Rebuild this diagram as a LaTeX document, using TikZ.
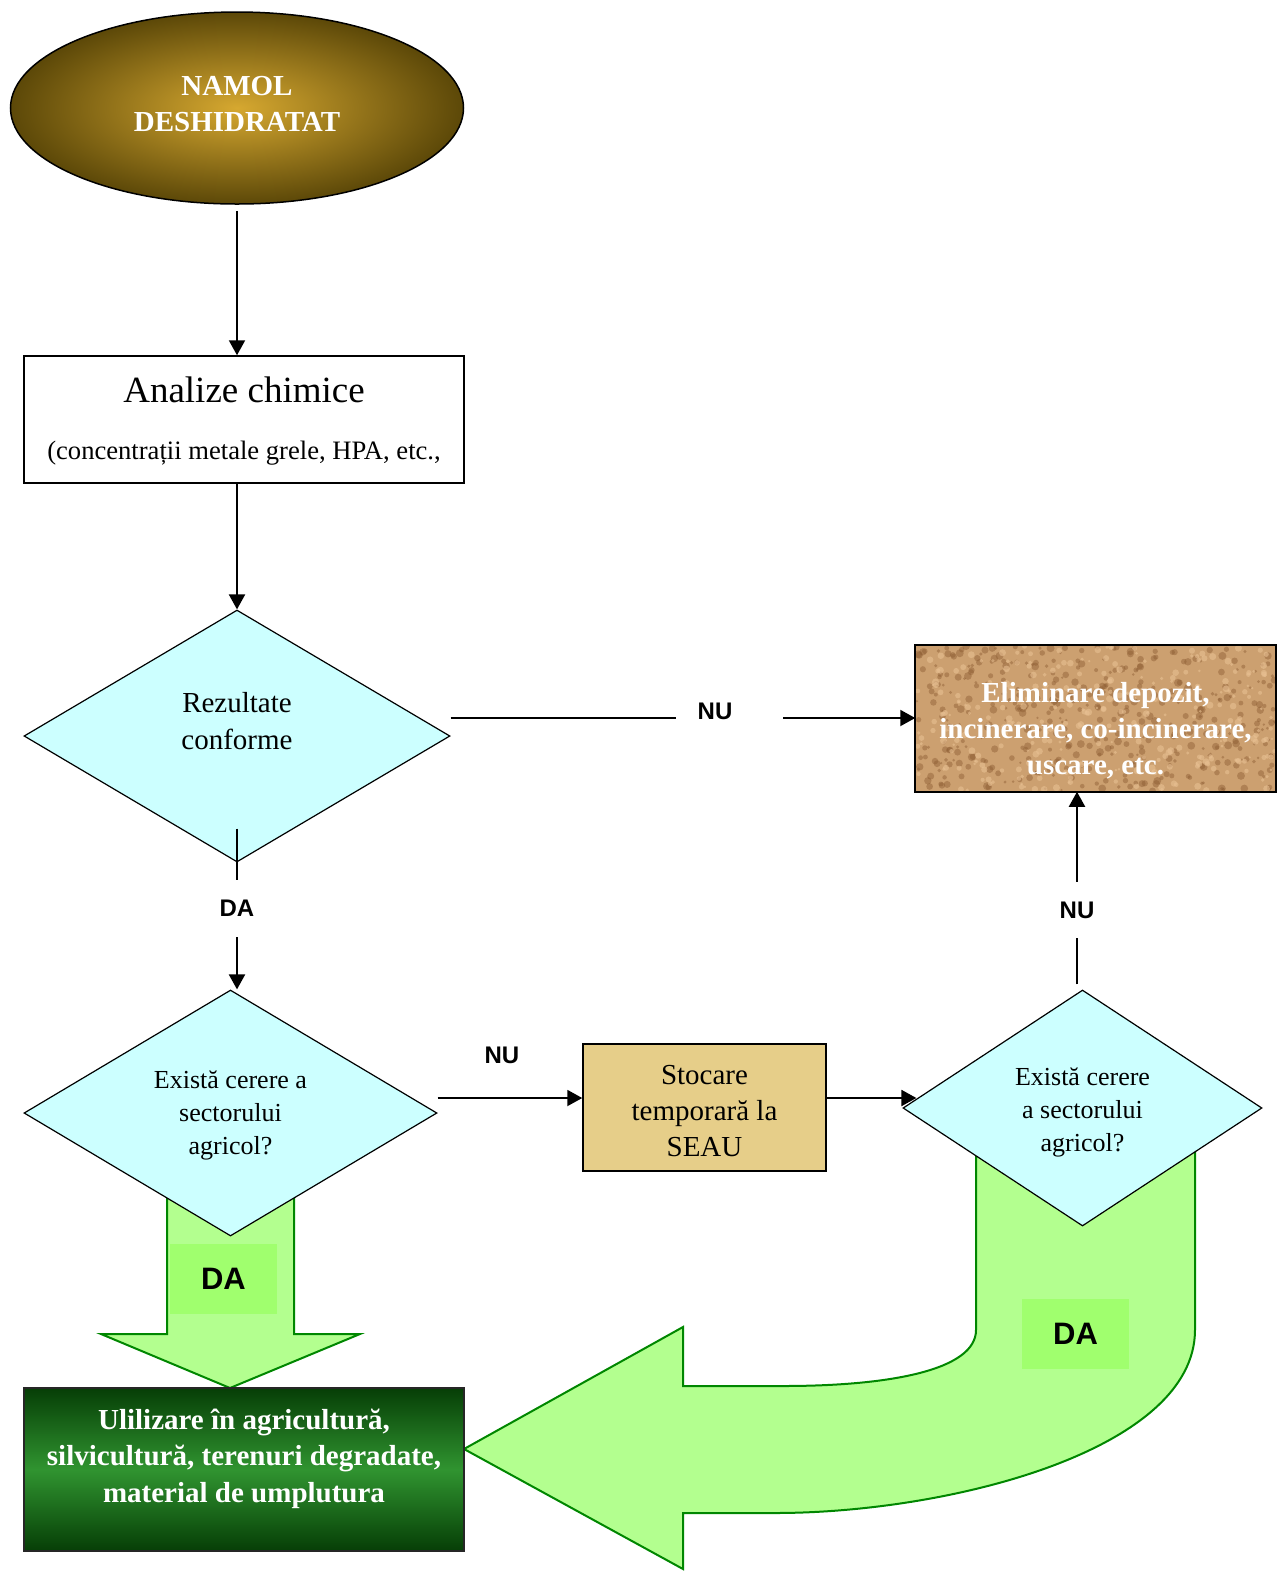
\documentclass[tikz,border=0pt]{standalone}
\usepackage{fontspec}
\setmainfont{Liberation Serif}
\newfontfamily\lblfont{Liberation Sans}
\usetikzlibrary{arrows.meta,shapes.geometric}

\definecolor{decisionfill}{RGB}{204,255,255}
\definecolor{arrowgreen}{RGB}{179,255,143}
\definecolor{arrowline}{RGB}{0,135,0}
\definecolor{dabox}{RGB}{160,255,110}
\definecolor{storefill}{RGB}{230,206,137}
\definecolor{corkfill}{RGB}{204,160,112}
\definecolor{corkdark}{RGB}{140,92,50}
\definecolor{corklight}{RGB}{232,192,146}
\definecolor{goldlight}{RGB}{214,168,48}
\definecolor{golddark}{RGB}{92,72,8}
\definecolor{greendark}{RGB}{6,62,6}
\definecolor{greenmid}{RGB}{48,148,48}

\begin{document}
\begin{tikzpicture}[x=0.5pt, y=-0.5pt,
  conn/.style={line width=1pt},
  arr/.style={conn, -{Triangle[length=7.5pt,width=8pt]}},
  decision/.style={diamond, draw, line width=0.6pt, fill=decisionfill, inner sep=0pt, align=center},
  box/.style={rectangle, draw, line width=0.75pt, inner sep=0pt, align=center},
  plaintext/.style={inner sep=0pt, align=center},
  whitetext/.style={text=white, font=\bfseries\fontsize{14.5}{18}\selectfont, align=center, inner sep=0pt},
  lbl/.style={font=\lblfont\bfseries\fontsize{12}{14}\selectfont, inner sep=0pt},
  bigarrow/.style={fill=arrowgreen, draw=arrowline, line width=1pt},
  dalbl/.style={fill=dabox, font=\lblfont\bfseries\fontsize{15.5}{18}\selectfont, minimum width=53.5pt, minimum height=35pt, inner sep=0pt}
]

\useasboundingbox (0,0) rectangle (1278,1571);

% BIG ARROWS
\filldraw [bigarrow] (167,1190) -- (167,1334) -- (101,1334) -- (230,1388) -- (360,1334) -- (294,1334) -- (294,1190) -- cycle;
\filldraw [bigarrow] (976,1150) -- (976,1330) .. controls (976,1370) and (890,1386) .. (783,1386) -- (683,1386) -- (683,1327) -- (464,1449) -- (683,1569) -- (683,1513) -- (775,1513) .. controls (950,1513) and (1195,1450) .. (1195,1330) -- (1195,1150) -- cycle;
\node [dalbl] (da2) at (223.5,1279) {DA};
\node [dalbl] (da4) at (1075.5,1333.5) {DA};

% SHAPES
\node [ellipse, draw, line width=0.75pt, inner color=goldlight, outer color=golddark, minimum width=226.5pt, minimum height=96pt] (nam) at (237,108) {};
\node [whitetext] (namtext) at (237,104) {NAMOL\\DESHIDRATAT};

\node [box, minimum width=220pt, minimum height=63.5pt] (analize) at (244,419.5) {};
\node [plaintext, font=\fontsize{18.5}{22}\selectfont] (antitle) at (244,390) {Analize chimice};
\node [plaintext, font=\fontsize{13.3}{16}\selectfont] (ansub) at (244,453) {(concentrații metale grele, HPA, etc.,};

\node [decision, minimum width=213pt, minimum height=126pt] (rez) at (237,736) {};
\node [plaintext, font=\fontsize{14.5}{18.5}\selectfont] (reztext) at (237,721.5) {Rezultate\\conforme};

% cork texture
\node [box, draw=none, fill=corkfill, minimum width=179.5pt, minimum height=72.5pt] (elim) at (1095.5,718.5) {};
\begin{scope}
\clip (elim.south west) rectangle (elim.north east);
\pgfmathsetseed{42}
\foreach \i in {1,...,420} {
  \pgfmathsetmacro\px{916+359*rnd}
  \pgfmathsetmacro\py{646+145*rnd}
  \pgfmathsetmacro\pr{0.6+1.4*rnd}
  \fill [corkdark, opacity=0.45] (\px,\py) circle (\pr pt);
}
\foreach \i in {1,...,300} {
  \pgfmathsetmacro\px{916+359*rnd}
  \pgfmathsetmacro\py{646+145*rnd}
  \pgfmathsetmacro\pr{0.6+1.2*rnd}
  \fill [corklight, opacity=0.6] (\px,\py) circle (\pr pt);
}
\end{scope}
\draw [line width=1pt] (elim.south west) rectangle (elim.north east);
\node [whitetext] (elimtext) at (1095.5,731) {Eliminare depozit,\\incinerare, co-incinerare,\\uscare, etc.};

\node [decision, minimum width=206.5pt, minimum height=123pt] (exa) at (230.5,1113) {};
\node [plaintext, font=\fontsize{13}{16.5}\selectfont] (exatext) at (230.5,1115) {Există cerere a\\sectorului\\agricol?};

\node [box, fill=storefill, minimum width=121.5pt, minimum height=63.5pt] (sto) at (704.5,1107.5) {};
\node [plaintext, font=\fontsize{14.5}{18}\selectfont] (stotext) at (704.5,1111.5) {Stocare\\temporară la\\SEAU};

\node [decision, minimum width=179.5pt, minimum height=118pt] (mex) at (1082.5,1108) {};
\node [plaintext, font=\fontsize{13}{16.5}\selectfont] (mextext) at (1082.5,1112.5) {Există cerere\\a sectorului\\agricol?};

\node [box, draw=black!85, top color=greendark, bottom color=greendark, middle color=greenmid, minimum width=220pt, minimum height=81.5pt] (util) at (244,1469.5) {};
\node [whitetext, font=\bfseries\fontsize{14.5}{18.25}\selectfont] (utiltext) at (244,1458.5) {Ulilizare în agricultură,\\silvicultură, terenuri degradate,\\material de umplutura};

% LABELS
\node [lbl, minimum height=28.5pt] (da1) at (237,908.5) {DA};
\node [lbl] (nu1) at (715,711) {NU};
\coordinate (nu1a) at (676,718);
\coordinate (nu1b) at (783,718);
\node [lbl] (nu2) at (502,1055) {NU};
\node [lbl, minimum height=28pt] (nu3) at (1077,910) {NU};
\coordinate (mextop) at ([yshift=2.5pt]mex.north);

% CONNECTORS
\draw [arr, shorten <=3pt] (nam) -- (nam |- analize.north);
\draw [arr] (analize.south -| rez) -- (rez.north);
\draw [conn] ([yshift=17pt]rez.south) -- (da1);
\draw [arr] (da1) -- (da1 |- exa.north);
\draw [conn] (rez.east |- nu1a) -- (nu1a);
\draw [arr] (nu1b) -- (nu1b -| elim.west);
\draw [arr] ([yshift=7.5pt]exa.east) -- ([yshift=7.5pt]exa.east -| sto.west);
\draw [arr, shorten >=-7pt] ([yshift=4.75pt]sto.east) -- ([yshift=4.75pt]sto.east -| mex.west);
\draw [conn] (nu3 |- mextop) -- (nu3);
\draw [arr] (nu3) -- (nu3 |- elim.south);

\end{tikzpicture}
\end{document}
